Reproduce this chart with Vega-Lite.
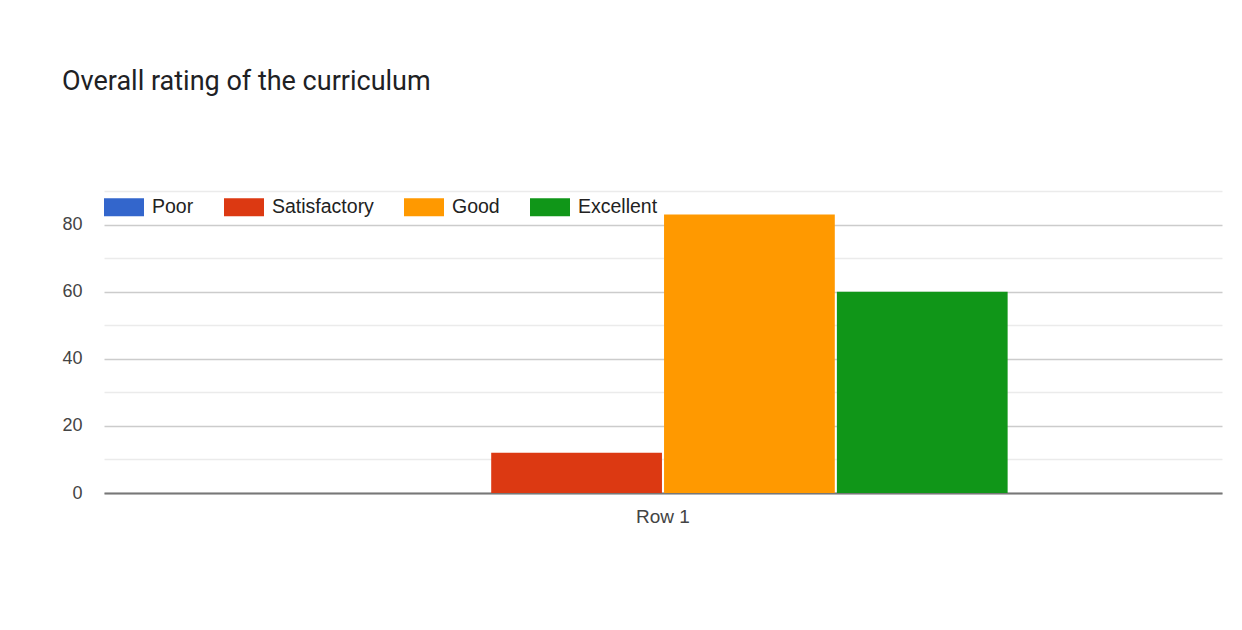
{
  "$schema": "https://vega.github.io/schema/vega-lite/v6.json",
  "autosize": "none",
  "width": 1118,
  "height": 302,
  "padding": {"left": 104, "top": 191, "right": 20, "bottom": 137},
  "background": "white",
  "title": {
    "text": "Overall rating of the curriculum",
    "anchor": "start",
    "frame": "group",
    "orient": "top",
    "dx": -42,
    "offset": 91,
    "font": "Roboto",
    "fontSize": 27,
    "fontWeight": "normal",
    "color": "#202124"
  },
  "data": {
    "values": [
      {"row": "Row 1", "rating": "Poor", "count": 0},
      {"row": "Row 1", "rating": "Satisfactory", "count": 12},
      {"row": "Row 1", "rating": "Good", "count": 83},
      {"row": "Row 1", "rating": "Excellent", "count": 60}
    ]
  },
  "mark": {"type": "bar"},
  "encoding": {
    "x": {
      "field": "row",
      "type": "nominal",
      "title": null,
      "scale": {"paddingInner": 0, "paddingOuter": 0.311},
      "axis": {
        "labelAngle": 0,
        "ticks": false,
        "domain": true,
        "domainColor": "#777",
        "domainWidth": 2,
        "labelFont": "Liberation Sans",
        "labelFontSize": 19,
        "labelColor": "#444",
        "labelPadding": 14
      }
    },
    "xOffset": {
      "field": "rating",
      "type": "nominal",
      "sort": ["Poor", "Satisfactory", "Good", "Excellent"],
      "scale": {"paddingInner": 0.012, "paddingOuter": 0}
    },
    "y": {
      "field": "count",
      "type": "quantitative",
      "title": null,
      "scale": {"domain": [0, 90], "nice": false},
      "axis": {
        "values": [0, 10, 20, 30, 40, 50, 60, 70, 80, 90],
        "labelExpr": "datum.value % 20 === 0 ? datum.label : ''",
        "domain": false,
        "ticks": false,
        "grid": true,
        "gridColor": {"condition": {"test": "datum.value % 20 === 0", "value": "#cccccc"}, "value": "#ebebeb"},
        "gridWidth": 1.5,
        "labelFont": "Liberation Sans",
        "labelFontSize": 18,
        "labelColor": "#444",
        "labelPadding": 22
      }
    },
    "color": {
      "field": "rating",
      "type": "nominal",
      "sort": ["Poor", "Satisfactory", "Good", "Excellent"],
      "scale": {
        "domain": ["Poor", "Satisfactory", "Good", "Excellent"],
        "range": ["#3366cc", "#dc3912", "#ff9900", "#109618"]
      },
      "legend": {
        "title": null,
        "orient": "none",
        "legendX": 0,
        "legendY": -4,
        "direction": "horizontal",
        "symbolType": "M-1,-0.45H1V0.45H-1Z",
        "symbolSize": 1600,
        "symbolStrokeWidth": 0,
        "labelFont": "Liberation Sans",
        "labelFontSize": 19.5,
        "labelColor": "#222",
        "labelOffset": 8,
        "columnPadding": 30
      }
    }
  },
  "config": {
    "view": {"stroke": null}
  }
}
